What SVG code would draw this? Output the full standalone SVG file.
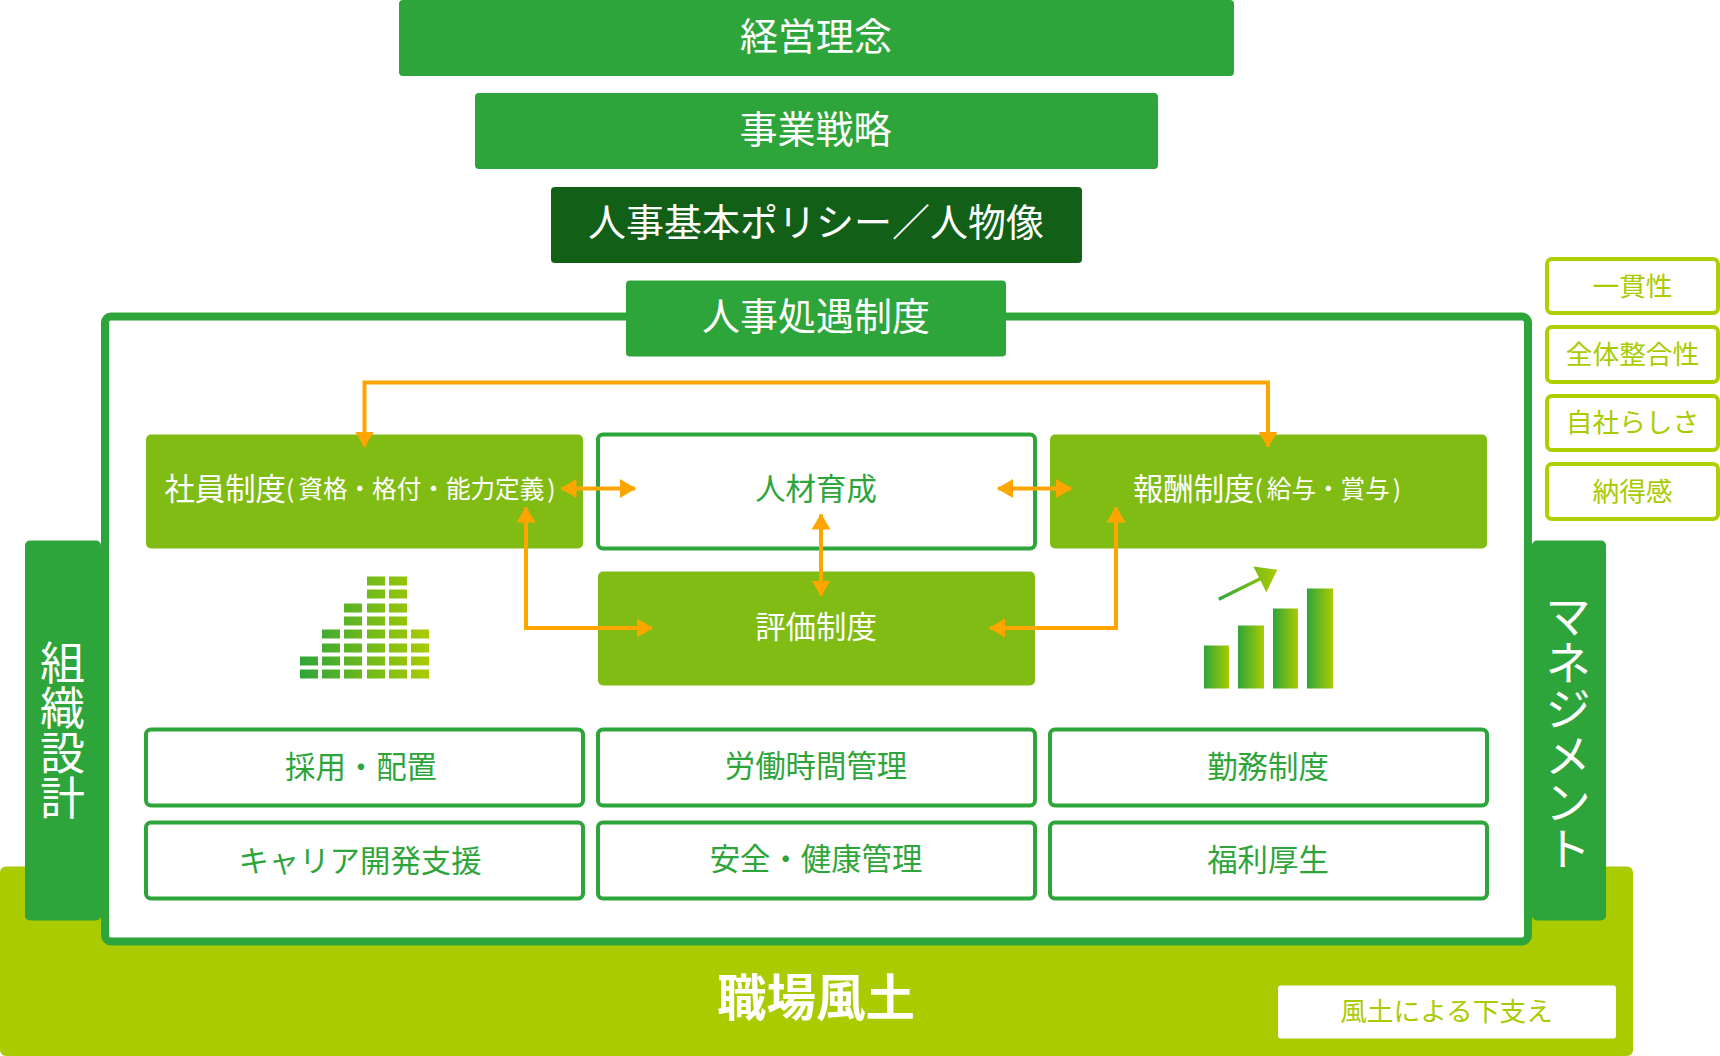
<svg xmlns="http://www.w3.org/2000/svg" width="1720" height="1056" viewBox="0 0 1720 1056">
<style>
text{font-family:"Noto Sans CJK JP","Noto Sans",sans-serif;text-anchor:middle;dominant-baseline:central}
.w{fill:#fff}.g{fill:#2ea53a}.l{fill:#aacb00}
.t38{font-size:38px}.t30{font-size:30.4px}.t27{font-size:26.7px}.s24{font-size:24.6px}
.box{fill:#fff;stroke:#2ea53a;stroke-width:4}
.mid{fill:#81bc14}.main{fill:#2ea53a}
.side{fill:#fff;stroke:#aecf00;stroke-width:4}
.conn{fill:none;stroke:#ffa500;stroke-width:4}
.v{writing-mode:vertical-rl}
</style>
<defs>
<linearGradient id="gs" gradientUnits="userSpaceOnUse" x1="300" y1="0" x2="429" y2="0"><stop offset="0" stop-color="#2ea53a"/><stop offset="1" stop-color="#aacb00"/></linearGradient>
<linearGradient id="gb"><stop offset="0" stop-color="#2ea53a"/><stop offset="1" stop-color="#aacb00"/></linearGradient>
<linearGradient id="ga" gradientUnits="userSpaceOnUse" x1="1218" y1="0" x2="1277" y2="0"><stop offset="0" stop-color="#2ea53a"/><stop offset="1" stop-color="#aacb00"/></linearGradient>
<marker id="ah" markerUnits="userSpaceOnUse" viewBox="0 0 16 19" refX="15" refY="9.5" markerWidth="16" markerHeight="19" orient="auto-start-reverse"><path d="M0 0L16 9.5L0 19z" fill="#ffa500"/></marker>
</defs>
<g id="base"><rect class="l" x="0" y="866.500" width="1633" height="189.500" rx="6"/></g>
<g id="base-label"><text x="816" y="994" class="w" font-size="49.500" font-weight="700">職場風土</text></g>
<g id="support"><rect x="1278" y="985.500" width="338" height="53" rx="3" fill="#fff"/><text x="1446.500" y="1009.500" class="l t27">風土による下支え</text></g>
<g id="org"><rect class="main" x="25" y="540.500" width="76" height="380" rx="5"/><text x="62.500" y="730.500" class="w v" font-size="45">組織設計</text></g>
<g id="mgmt"><rect class="main" x="1532" y="540.500" width="74" height="380" rx="5"/><text x="1568" y="732" class="w v" font-size="46.500">マネジメント</text></g>
<g id="frame"><rect x="105" y="316.500" width="1423" height="625" rx="6" fill="#fff" stroke="#2ea53a" stroke-width="8"/></g>
<g id="n1"><rect class="main" x="399" y="0" width="835" height="76" rx="4"/><text x="816" y="33" class="w t38">経営理念</text></g>
<g id="n2"><rect class="main" x="475" y="93" width="683" height="76" rx="4"/><text x="815.500" y="126" class="w t38">事業戦略</text></g>
<g id="n3"><rect fill="#126017" x="551" y="187" width="531" height="76" rx="4"/><text x="816" y="219" class="w t38">人事基本ポリシー／人物像</text></g>
<g id="n4"><rect class="main" x="626" y="280.500" width="380" height="76" rx="4"/><text x="816" y="313" class="w t38">人事処遇制度</text></g>
<g id="n5"><rect class="mid" x="146" y="434.500" width="437" height="114" rx="5"/><text x="360" y="487" class="w t30">社員制度<tspan class="s24">(</tspan><tspan class="s24" dx="4">資格・格付・能力定義</tspan><tspan class="s24" dx="3">)</tspan></text></g>
<g id="n6"><rect class="box" x="598" y="434.500" width="437" height="114" rx="5"/><text x="816" y="487" class="g t30">人材育成</text></g>
<g id="n7"><rect class="mid" x="1050" y="434.500" width="437" height="114" rx="5"/><text x="1267" y="487" class="w t30">報酬制度<tspan class="s24">(</tspan><tspan class="s24" dx="4">給与・賞与</tspan><tspan class="s24" dx="3">)</tspan></text></g>
<g id="n8"><rect class="mid" x="598" y="571.500" width="437" height="114" rx="5"/><text x="816" y="624.500" class="w t30">評価制度</text></g>
<g id="n9"><rect class="box" x="146" y="729.500" width="437" height="76" rx="5"/><text x="361" y="765" class="g t30">採用・配置</text></g>
<g id="n10"><rect class="box" x="598" y="729.500" width="437" height="76" rx="5"/><text x="816" y="764" class="g t30">労働時間管理</text></g>
<g id="n11"><rect class="box" x="1050" y="729.500" width="437" height="76" rx="5"/><text x="1268" y="765" class="g t30">勤務制度</text></g>
<g id="n12"><rect class="box" x="146" y="822.500" width="437" height="76" rx="5"/><text x="360" y="858.500" class="g t30">キャリア開発支援</text></g>
<g id="n13"><rect class="box" x="598" y="822.500" width="437" height="76" rx="5"/><text x="816" y="857" class="g t30">安全・健康管理</text></g>
<g id="n14"><rect class="box" x="1050" y="822.500" width="437" height="76" rx="5"/><text x="1268" y="858" class="g t30">福利厚生</text></g>
<g id="s1"><rect class="side" x="1547" y="259" width="171" height="54" rx="5"/><text x="1632.500" y="284" class="l t27">一貫性</text></g>
<g id="s2"><rect class="side" x="1547" y="327" width="171" height="55" rx="5"/><text x="1632.500" y="352" class="l t27">全体整合性</text></g>
<g id="s3"><rect class="side" x="1547" y="396" width="171" height="54" rx="5"/><text x="1632.500" y="420" class="l t27">自社らしさ</text></g>
<g id="s4"><rect class="side" x="1547" y="464" width="171" height="55" rx="5"/><text x="1632.500" y="489" class="l t27">納得感</text></g>
<g id="connectors">
<path class="conn" d="M364.500 446.500V382.500H1268V446.500" marker-start="url(#ah)" marker-end="url(#ah)"/>
<path class="conn" d="M561.500 488.500H635" marker-start="url(#ah)" marker-end="url(#ah)"/>
<path class="conn" d="M998 488.500H1071" marker-start="url(#ah)" marker-end="url(#ah)"/>
<path class="conn" d="M821 514.500V595.500" marker-start="url(#ah)" marker-end="url(#ah)"/>
<path class="conn" d="M526 507.500V628H652" marker-start="url(#ah)" marker-end="url(#ah)"/>
<path class="conn" d="M1116 507.500V628H990" marker-start="url(#ah)" marker-end="url(#ah)"/>
</g>
<g id="icon-stack" fill="url(#gs)" transform="translate(0 .5)">
<rect x="300" y="656" width="18" height="9"/><rect x="300" y="669" width="18" height="9"/>
<rect x="322" y="629" width="18" height="9"/><rect x="322" y="643" width="18" height="9"/><rect x="322" y="656" width="18" height="9"/><rect x="322" y="669" width="18" height="9"/>
<rect x="344" y="603" width="18" height="9"/><rect x="344" y="616" width="18" height="9"/><rect x="344" y="629" width="18" height="9"/><rect x="344" y="643" width="18" height="9"/><rect x="344" y="656" width="18" height="9"/><rect x="344" y="669" width="18" height="9"/>
<rect x="367" y="576" width="18" height="9"/><rect x="367" y="589" width="18" height="9"/><rect x="367" y="603" width="18" height="9"/><rect x="367" y="616" width="18" height="9"/><rect x="367" y="629" width="18" height="9"/><rect x="367" y="643" width="18" height="9"/><rect x="367" y="656" width="18" height="9"/><rect x="367" y="669" width="18" height="9"/>
<rect x="389" y="576" width="18" height="9"/><rect x="389" y="589" width="18" height="9"/><rect x="389" y="603" width="18" height="9"/><rect x="389" y="616" width="18" height="9"/><rect x="389" y="629" width="18" height="9"/><rect x="389" y="643" width="18" height="9"/><rect x="389" y="656" width="18" height="9"/><rect x="389" y="669" width="18" height="9"/>
<rect x="411" y="629" width="18" height="9"/><rect x="411" y="643" width="18" height="9"/><rect x="411" y="656" width="18" height="9"/><rect x="411" y="669" width="18" height="9"/>
</g>
<g id="icon-chart" transform="translate(0 .5)">
<rect x="1204" y="645" width="25" height="43" fill="url(#gb)"/><rect x="1238" y="625" width="26" height="63" fill="url(#gb)"/><rect x="1273" y="608" width="25" height="80" fill="url(#gb)"/><rect x="1307" y="588" width="26" height="100" fill="url(#gb)"/>
<path d="M1218 597.200L1259 577L1253.300 566L1277.300 569.300L1266.300 591.700L1260.500 580L1219.500 600.200z" fill="url(#ga)"/>
</g>
</svg>
